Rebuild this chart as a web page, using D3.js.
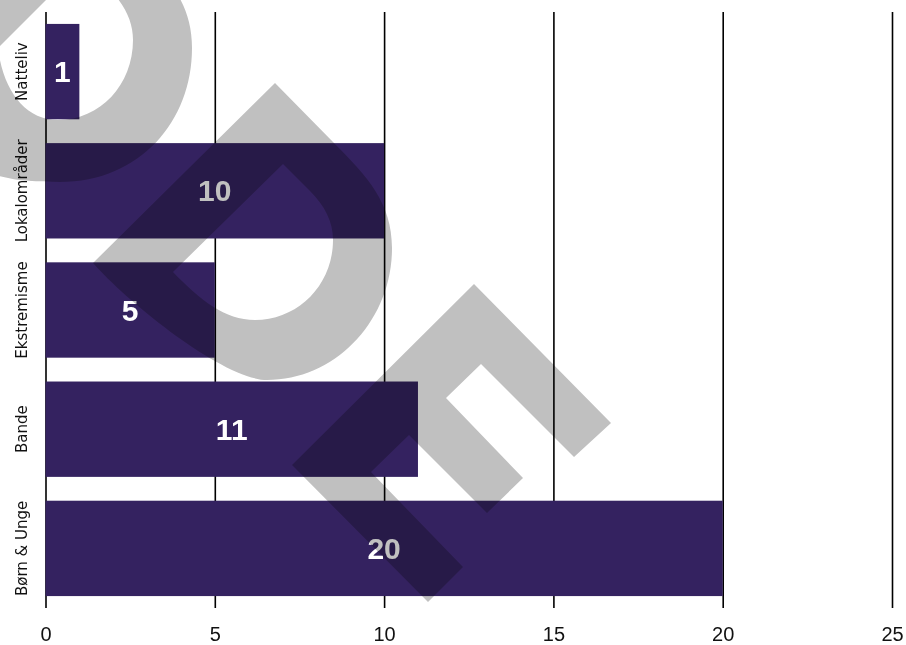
<!DOCTYPE html>
<html>
<head>
<meta charset="utf-8">
<script src="https://cdn.jsdelivr.net/npm/d3@7"></script>
<style>
  html, body { margin: 0; padding: 0; background: #fff; }
  svg { display: block; background: #fff; }
  .grid line { stroke: #000; stroke-width: 1.6; }
  .grid text { font-family: "Liberation Sans", Arial, sans-serif; font-size: 20px; fill: #111; }
  .cat { font-family: "DejaVu Sans", sans-serif; font-size: 15px; fill: #111; }
  .val { font-family: "Liberation Sans", Arial, sans-serif; font-weight: bold; font-size: 30px; fill: #fff; }
  .watermark { mix-blend-mode: multiply; fill: #c0c0c0; }
</style>
</head>
<body>
<div id="main"></div>
<script>
const categories = ["Natteliv", "Lokalområder", "Ekstremisme", "Bande", "Børn & Unge"];
const values = [1, 10, 5, 11, 20];
const tickValues = [0, 5, 10, 15, 20, 25];

const width = 906;
const height = 645;
const barColor = "#342260";

const svg = d3.select("#main")
  .append("svg")
  .attr("width", width)
  .attr("height", height);

const x = d3.scaleLinear().domain([0, 25]).range([45.5, 892]);
const y = d3.scaleBand()
  .domain(categories)
  .range([12, 608])
  .paddingInner(0.2)
  .paddingOuter(0.1);

// vertical grid lines + tick labels
const grid = svg.append("g")
  .attr("class", "grid")
  .attr("transform", "translate(0,608)")
  .call(d3.axisBottom(x).tickValues(tickValues).tickSize(-596).tickFormat(d3.format("d")));
grid.select(".domain").remove();
grid.selectAll("text").attr("y", 19);

const data = categories.map((c, i) => ({ cat: c, value: values[i] }));

svg.append("g")
  .selectAll("rect")
  .data(data)
  .enter()
  .append("rect")
  .attr("x", x(0))
  .attr("y", d => y(d.cat))
  .attr("width", d => x(d.value) - x(0))
  .attr("height", y.bandwidth())
  .style("fill", barColor);

svg.append("g")
  .selectAll("text")
  .data(data)
  .enter()
  .append("text")
  .attr("class", "val")
  .attr("x", d => x(d.value / 2))
  .attr("y", d => y(d.cat) + y.bandwidth() / 2)
  .attr("text-anchor", "middle")
  .attr("dominant-baseline", "central")
  .text(d => d.value);

svg.append("g")
  .selectAll("text")
  .data(categories)
  .enter()
  .append("text")
  .attr("class", "cat")
  .attr("transform", d => "translate(27," + (y(d) + y.bandwidth() / 2) + ") rotate(-90)")
  .attr("text-anchor", "middle")
  .text(d => d);

// grey logo watermark laid over the chart
const wm = svg.append("g").attr("class", "watermark");

wm.append("path")
  .attr("fill-rule", "evenodd")
  .attr("d",
    "M75,-117 L133,-58 C168,-23 192,3 192,48 C192,121 140,182 60,182 C25,182 0,180 -30,165 L-107,63 Z " +
    "M83,-37 L110,-10 C125,5 133,22 133,40 C133,85 100,120 58,120 C25,120 3,90 -2,48 Z");

wm.append("path")
  .attr("fill-rule", "evenodd")
  .attr("d",
    "M275,83 L333,142 C368,177 392,203 392,248 C392,321 335,380 267,380 C225,380 130,305 93,263 Z " +
    "M283,164 L310,191 C325,206 333,222 333,240 C333,285 298,320 255,320 C225,320 200,300 173,272 Z");

wm.append("path")
  .attr("d", "M474,284 L611,423 L574,457 L481,364 L446,398 L523,478 L487,513 L409,435 L371,472 L463,567 L428,602 L292,465 Z");
</script>
</body>
</html>
